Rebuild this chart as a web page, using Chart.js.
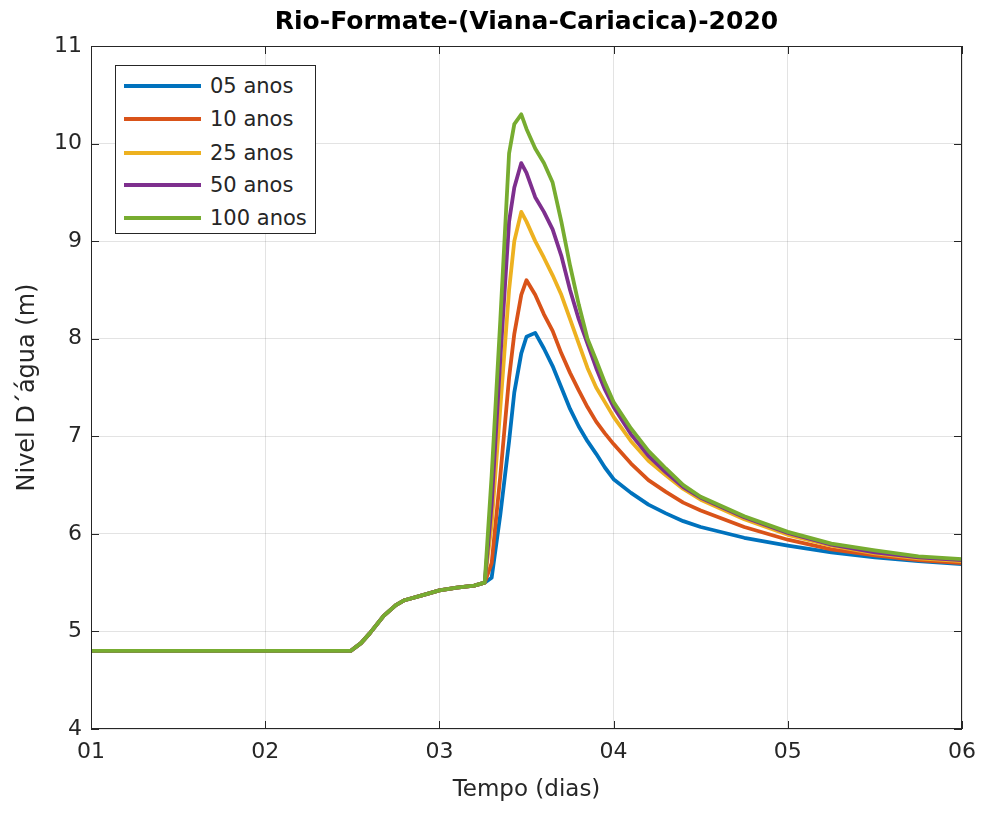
<!DOCTYPE html>
<html>
<head>
<meta charset="utf-8">
<script src="https://cdn.jsdelivr.net/npm/chart.js@4.4.1/dist/chart.umd.min.js"></script>
<style>
    html, body { margin: 0; padding: 0; background: #fff; }
    #wrap { position: relative; width: 981px; height: 819px; }
    #legend {
        position: absolute; left: 115px; top: 65px; width: 201px; height: 169px;
        border: 1px solid #262626; background: #fff; box-sizing: border-box;
        font-family: 'DejaVu Sans', sans-serif; font-size: 21px; color: #262626;
    }
    .legend-row { position: absolute; left: 0; height: 30px; display: flex; align-items: center; }
    .legend-line { width: 77px; height: 4px; margin-left: 8px; margin-right: 9px; }
</style>
</head>
<body>
<div id="wrap">
    <canvas id="chart" width="981" height="819"></canvas>
    <div id="legend"></div>
</div>
<script>
// time in days
const tempo = [1.0, 1.5, 2.0, 2.49, 2.55, 2.6, 2.68, 2.75, 2.8, 2.9, 3.0, 3.1, 3.2, 3.26,
    3.3, 3.35, 3.4, 3.43, 3.47, 3.5, 3.55, 3.6, 3.65, 3.7, 3.75, 3.8, 3.85, 3.9, 3.95,
    4.0, 4.1, 4.2, 4.3, 4.4, 4.5, 4.75, 5.0, 5.25, 5.5, 5.75, 6.0];

const nivel05 = [4.8, 4.8, 4.8, 4.8, 4.88, 4.98, 5.16, 5.27, 5.32, 5.37, 5.42, 5.45, 5.47, 5.5,
    5.55, 6.2, 6.95, 7.45, 7.85, 8.02, 8.06, 7.9, 7.72, 7.5, 7.28, 7.1, 6.95, 6.82, 6.68,
    6.56, 6.42, 6.3, 6.21, 6.13, 6.07, 5.96, 5.88, 5.81, 5.76, 5.72, 5.69];
const nivel10 = [4.8, 4.8, 4.8, 4.8, 4.88, 4.98, 5.16, 5.27, 5.32, 5.37, 5.42, 5.45, 5.47, 5.5,
    5.7, 6.6, 7.6, 8.05, 8.45, 8.6, 8.45, 8.25, 8.08, 7.85, 7.65, 7.47, 7.3, 7.15, 7.03,
    6.92, 6.72, 6.55, 6.43, 6.32, 6.24, 6.07, 5.94, 5.84, 5.78, 5.73, 5.7];
const nivel25 = [4.8, 4.8, 4.8, 4.8, 4.88, 4.98, 5.16, 5.27, 5.32, 5.37, 5.42, 5.45, 5.47, 5.5,
    6.1, 7.3, 8.5, 9.0, 9.3, 9.2, 9.0, 8.83, 8.65, 8.45, 8.2, 7.95, 7.7, 7.5, 7.35,
    7.2, 6.95, 6.75, 6.6, 6.46, 6.35, 6.15, 5.99, 5.88, 5.8, 5.75, 5.72];
const nivel50 = [4.8, 4.8, 4.8, 4.8, 4.88, 4.98, 5.16, 5.27, 5.32, 5.37, 5.42, 5.45, 5.47, 5.5,
    6.3, 7.8, 9.2, 9.55, 9.8, 9.7, 9.45, 9.3, 9.12, 8.85, 8.5, 8.2, 7.95, 7.7, 7.48,
    7.3, 7.02, 6.8, 6.63, 6.48, 6.37, 6.17, 6.01, 5.89, 5.81, 5.76, 5.73];
const nivel100 = [4.8, 4.8, 4.8, 4.8, 4.88, 4.98, 5.16, 5.27, 5.32, 5.37, 5.42, 5.45, 5.47, 5.5,
    6.6, 8.2, 9.9, 10.2, 10.3, 10.15, 9.95, 9.8, 9.6, 9.2, 8.75, 8.35, 8.0, 7.78, 7.55,
    7.35, 7.08, 6.85, 6.67, 6.5, 6.38, 6.18, 6.02, 5.9, 5.83, 5.77, 5.74];

const seriesNames = ['05 anos', '10 anos', '25 anos', '50 anos', '100 anos'];
const seriesValues = [nivel05, nivel10, nivel25, nivel50, nivel100];
const seriesColors = ['#0072BD', '#D95319', '#EDB120', '#7E2F8E', '#77AC30'];

const xTickLabels = ['01', '02', '03', '04', '05', '06'];
const yTicks = [4, 5, 6, 7, 8, 9, 10, 11];

const axisColor = '#262626';
const gridColor = 'rgba(38,38,38,0.13)';

// box around the axes with inward ticks, MATLAB style
const framePlugin = {
    id: 'frame',
    afterDatasetsDraw(chart) {
        const { ctx, chartArea: a, scales: { x, y } } = chart;
        const len = 8;
        ctx.save();
        ctx.strokeStyle = axisColor;
        ctx.lineWidth = 1;
        ctx.strokeRect(Math.round(a.left) + 0.5, Math.round(a.top) + 0.5,
            Math.round(a.width) - 1, Math.round(a.height) - 1);
        ctx.beginPath();
        x.ticks.forEach(tk => {
            const px = Math.round(x.getPixelForValue(tk.value)) + 0.5;
            ctx.moveTo(px, a.bottom); ctx.lineTo(px, a.bottom - len);
            ctx.moveTo(px, a.top); ctx.lineTo(px, a.top + len);
        });
        y.ticks.forEach(tk => {
            const py = Math.round(y.getPixelForValue(tk.value)) + 0.5;
            ctx.moveTo(a.left, py); ctx.lineTo(a.left + len, py);
            ctx.moveTo(a.right, py); ctx.lineTo(a.right - len, py);
        });
        ctx.stroke();
        ctx.restore();
    }
};

const datasets = seriesNames.map((name, i) => ({
    label: name,
    data: tempo.map((t, j) => ({ x: t, y: seriesValues[i][j] })),
    borderColor: seriesColors[i],
    backgroundColor: seriesColors[i],
    borderWidth: 3.8,
    pointRadius: 0,
    tension: 0,
    borderJoinStyle: 'round',
    order: seriesNames.length - 1 - i
}));

const ctx = document.getElementById('chart').getContext('2d');
new Chart(ctx, {
    type: 'line',
    data: { datasets: datasets },
    options: {
        responsive: false,
        animation: false,
        layout: { padding: { left: 0, right: 19, top: 0, bottom: 0 } },
        scales: {
            x: {
                type: 'linear',
                min: 1,
                max: 6,
                afterFit: scale => {
                    scale.height = 90;
                    scale.paddingLeft = 0;
                    scale.paddingRight = 0;
                },
                afterBuildTicks: scale => {
                    scale.ticks = xTickLabels.map((_, i) => ({ value: i + 1 }));
                },
                ticks: {
                    autoSkip: false,
                    maxRotation: 0,
                    padding: 10,
                    color: axisColor,
                    font: { family: "'DejaVu Sans', sans-serif", size: 22 },
                    callback: (v) => xTickLabels[Math.round(v) - 1]
                },
                grid: { color: gridColor, drawTicks: false },
                border: { display: false },
                title: {
                    display: true,
                    text: 'Tempo (dias)',
                    color: axisColor,
                    font: { family: "'DejaVu Sans', sans-serif", size: 23 },
                    padding: { top: 0, bottom: 15 }
                }
            },
            y: {
                min: 4,
                max: 11,
                afterFit: scale => { scale.width = 91; },
                afterBuildTicks: scale => {
                    scale.ticks = yTicks.map(v => ({ value: v }));
                },
                ticks: {
                    padding: 9,
                    color: axisColor,
                    font: { family: "'DejaVu Sans', sans-serif", size: 22 }
                },
                grid: { color: gridColor, drawTicks: false },
                border: { display: false },
                title: {
                    display: true,
                    text: 'Nivel D´água (m)',
                    color: axisColor,
                    font: { family: "'DejaVu Sans', sans-serif", size: 24 },
                    padding: { top: 13, bottom: 0 }
                }
            }
        },
        plugins: {
            legend: { display: false },
            tooltip: { enabled: false },
            title: {
                display: true,
                fullSize: false,
                text: 'Rio-Formate-(Viana-Cariacica)-2020',
                color: '#000',
                font: { family: "'DejaVu Sans', sans-serif", size: 25, weight: 'bold' },
                padding: { top: 7, bottom: 9 }
            }
        }
    },
    plugins: [framePlugin]
});

// legend inside the axes
const legendBox = document.getElementById('legend');
const rowTops = [5, 38, 72, 104, 137];
seriesNames.forEach((name, i) => {
    const row = document.createElement('div');
    row.className = 'legend-row';
    row.style.top = rowTops[i] + 'px';
    row.innerHTML = `<span class="legend-line" style="background:${seriesColors[i]}"></span><span>${name}</span>`;
    legendBox.appendChild(row);
});
</script>
</body>
</html>
